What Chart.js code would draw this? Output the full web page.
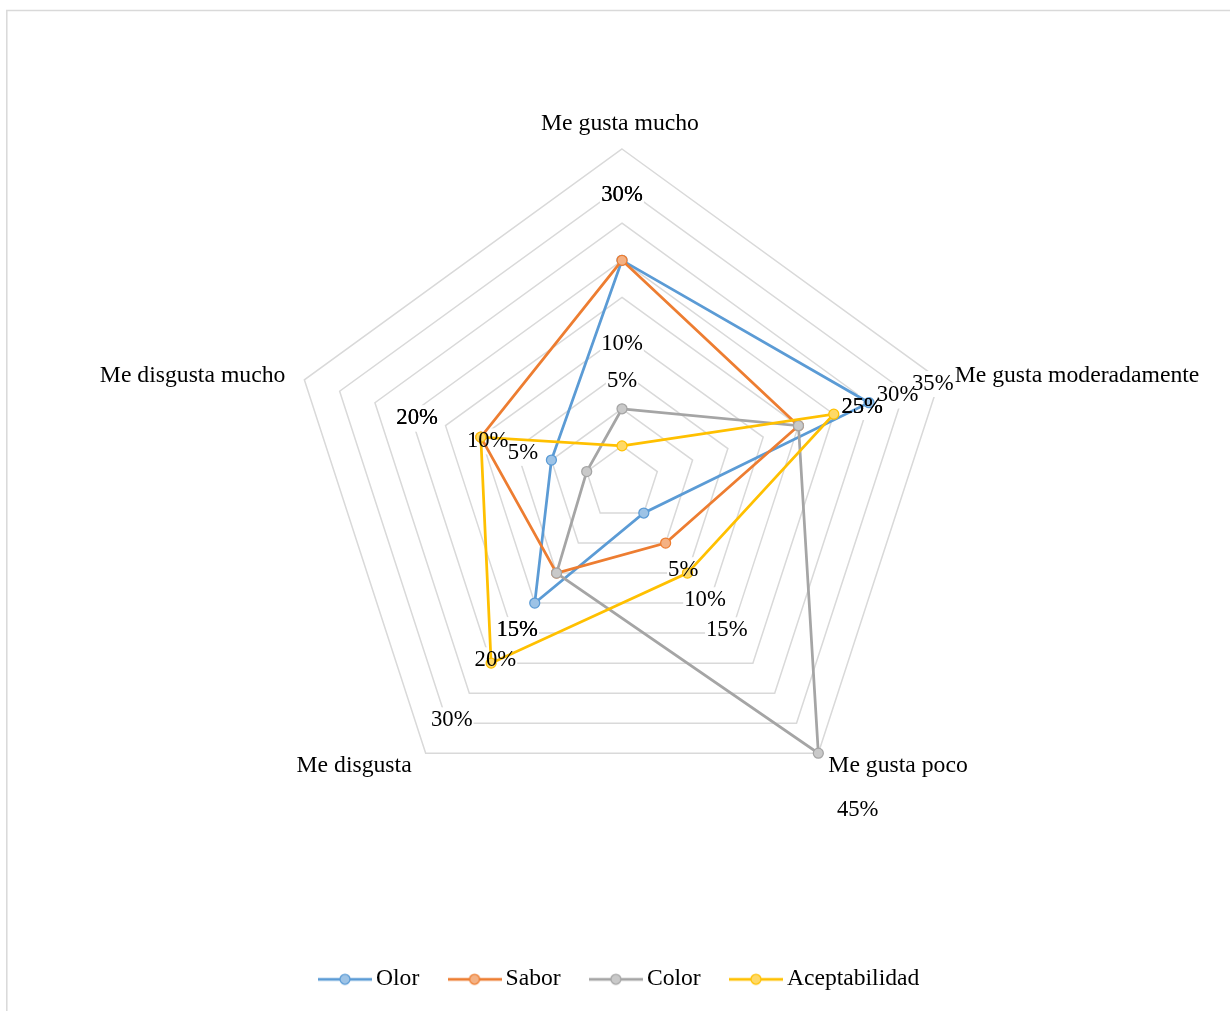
<!DOCTYPE html>
<html lang="es">
<head>
<meta charset="UTF-8">
<title>Radar - Aceptabilidad</title>
<script src="https://cdn.jsdelivr.net/npm/chart.js"></script>
<style>
    html, body { margin: 0; padding: 0; background: #fff; overflow: hidden; }
    canvas { display: block; }
</style>
</head>
<body>
<canvas id="graficoRadar" width="1230" height="1011"></canvas>

<script>
    // ejes del radar y porcentajes de cada atributo
    var categorias = ['Me gusta mucho', 'Me gusta moderadamente', 'Me gusta poco', 'Me disgusta', 'Me disgusta mucho'];
    var olor = [30, 35, 5, 20, 10];
    var sabor = [30, 25, 10, 15, 20];
    var color = [10, 25, 45, 15, 5];
    var aceptabilidad = [5, 30, 15, 30, 20];
    var escalaMax = 45;
    var escalaPaso = 5;

    var fuente = '"Liberation Serif", "Times New Roman", serif';

    var series = [
        { nombre: 'Olor', datos: olor, linea: '#5B9BD5', punto: '#9DC3E6' },
        { nombre: 'Sabor', datos: sabor, linea: '#ED7D31', punto: '#F4B183' },
        { nombre: 'Color', datos: color, linea: '#A5A5A5', punto: '#C9C9C9' },
        { nombre: 'Aceptabilidad', datos: aceptabilidad, linea: '#FFC000', punto: '#FFD966' }
    ];

    // icono de leyenda: linea con marcador al centro
    function iconoLeyenda(linea, punto) {
        var c = document.createElement('canvas');
        c.width = 54;
        c.height = 14;
        var g = c.getContext('2d');
        g.strokeStyle = linea;
        g.lineWidth = 2.75;
        g.beginPath();
        g.moveTo(0, 7);
        g.lineTo(54, 7);
        g.stroke();
        g.beginPath();
        g.arc(27, 7, 5, 0, Math.PI * 2);
        g.fillStyle = punto;
        g.fill();
        g.lineWidth = 1.25;
        g.stroke();
        return c;
    }

    // marco gris claro del grafico
    var marco = {
        id: 'marco',
        beforeDraw: function (chart) {
            var ctx = chart.ctx;
            ctx.save();
            ctx.strokeStyle = '#d9d9d9';
            ctx.lineWidth = 1.5;
            ctx.beginPath();
            ctx.moveTo(6.8, chart.height);
            ctx.lineTo(6.8, 10.5);
            ctx.lineTo(chart.width, 10.5);
            ctx.stroke();
            ctx.restore();
        }
    };

    // etiquetas de valores (fondo blanco bajo las lineas, texto encima)
    function cajasEtiquetas(chart) {
        var r = chart.scales.r;
        var ctx = chart.ctx;
        ctx.font = '22.7px ' + fuente;
        var cajas = [];
        chart.data.datasets.forEach(function (ds) {
            ds.data.forEach(function (v, i) {
                var p = r.getPointPosition(i, r.getDistanceFromCenterForValue(v) + 67);
                var txt = v + '%';
                var dy = p.y > r.yCenter ? 3 : 2;
                cajas.push({ txt: txt, x: p.x, y: p.y + dy, w: ctx.measureText(txt).width });
            });
        });
        return cajas;
    }

    var etiquetasDatos = {
        id: 'etiquetasDatos',
        beforeDatasetsDraw: function (chart) {
            var ctx = chart.ctx;
            var cajas = cajasEtiquetas(chart);
            ctx.save();
            ctx.fillStyle = '#fff';
            cajas.forEach(function (c) {
                ctx.fillRect(c.x - c.w / 2 - 1, c.y - 13, c.w + 2, 26);
            });
            ctx.restore();
        },
        afterDatasetsDraw: function (chart) {
            var ctx = chart.ctx;
            var cajas = cajasEtiquetas(chart);
            ctx.save();
            ctx.font = '22.7px ' + fuente;
            ctx.fillStyle = '#000';
            ctx.textAlign = 'center';
            ctx.textBaseline = 'middle';
            cajas.forEach(function (c) {
                ctx.fillText(c.txt, c.x, c.y);
            });
            ctx.restore();
        }
    };

    // nombres de los ejes junto a cada vertice
    var ajusteEjes = [
        { dx: -2, dy: -19, align: 'center' },
        { dx: 15, dy: 2.5, align: 'left' },
        { dx: 10, dy: 18.5, align: 'left' },
        { dx: -14, dy: 18.5, align: 'right' },
        { dx: -19, dy: 2.5, align: 'right' }
    ];

    var nombresEjes = {
        id: 'nombresEjes',
        afterDraw: function (chart) {
            var r = chart.scales.r;
            var ctx = chart.ctx;
            ctx.save();
            ctx.font = '23.7px ' + fuente;
            ctx.fillStyle = '#000';
            ctx.textBaseline = 'alphabetic';
            chart.data.labels.forEach(function (lab, i) {
                var p = r.getPointPosition(i, r.drawingArea);
                var a = ajusteEjes[i];
                ctx.textAlign = a.align;
                ctx.fillText(lab, p.x + a.dx, p.y + a.dy);
            });
            ctx.restore();
        }
    };

    var ctx = document.getElementById('graficoRadar').getContext('2d');
    var grafico = new Chart(ctx, {
        type: 'radar',
        data: {
            labels: categorias,
            datasets: series.map(function (s, i) {
                return {
                    label: s.nombre,
                    data: s.datos,
                    borderColor: s.linea,
                    backgroundColor: s.linea,
                    borderWidth: 2.75,
                    fill: false,
                    pointRadius: 5,
                    pointBorderWidth: 1.25,
                    pointBorderColor: s.linea,
                    pointBackgroundColor: s.punto,
                    order: series.length - i
                };
            })
        },
        options: {
            responsive: false,
            animation: false,
            layout: {
                padding: { left: 288, right: 273, top: 35, bottom: 10 }
            },
            scales: {
                r: {
                    min: 0,
                    max: escalaMax,
                    ticks: { stepSize: escalaPaso, display: false },
                    grid: { color: '#d9d9d9', lineWidth: 1.5 },
                    angleLines: { display: false },
                    pointLabels: { display: false }
                }
            },
            plugins: {
                tooltip: { enabled: false },
                legend: {
                    position: 'bottom',
                    labels: {
                        usePointStyle: true,
                        pointStyleWidth: 38.5,
                        padding: 36,
                        color: '#000',
                        font: { family: fuente, size: 23.6 },
                        generateLabels: function (chart) {
                            return series.map(function (s, i) {
                                return {
                                    text: s.nombre,
                                    pointStyle: iconoLeyenda(s.linea, s.punto),
                                    fillStyle: s.punto,
                                    strokeStyle: s.linea,
                                    lineWidth: 0,
                                    fontColor: '#000',
                                    hidden: false,
                                    datasetIndex: i
                                };
                            });
                        }
                    }
                }
            }
        },
        plugins: [marco, etiquetasDatos, nombresEjes]
    });
</script>
</body>
</html>
